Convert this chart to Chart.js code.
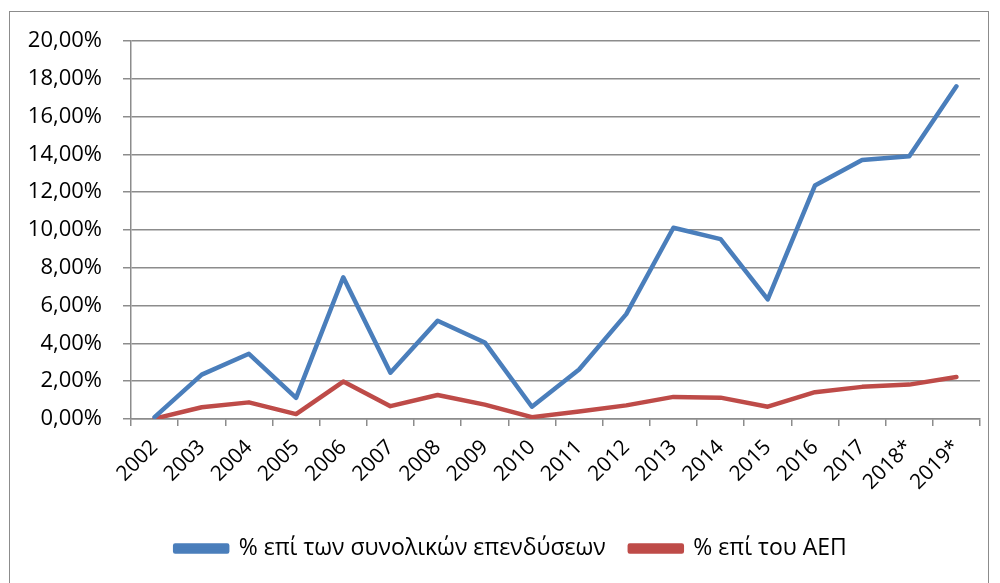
<!DOCTYPE html>
<html>
<head>
<meta charset="utf-8">
<script src="https://cdn.jsdelivr.net/npm/chart.js@4"></script>
<style>
  html, body { margin: 0; padding: 0; background: #fff; }
  #wrap { position: relative; width: 1000px; height: 583px; }
  #frame { position: absolute; left: 9px; top: 11px; width: 980px; height: 600px; border: 1px solid #8c8c8c; box-sizing: border-box; }
  #chartBox { position: absolute; left: 0; top: 0; width: 1000px; height: 583px; }
</style>
</head>
<body>
<div id="wrap">
  <div id="frame"></div>
  <div id="chartBox"><canvas id="lineChart"></canvas></div>
</div>
<script>
// data
const years = ['2002', '2003', '2004', '2005', '2006', '2007', '2008', '2009', '2010',
  '2011', '2012', '2013', '2014', '2015', '2016', '2017', '2018*', '2019*'];
const shareOfInvestment = [0.1, 2.35, 3.45, 1.12, 7.5, 2.45, 5.2, 4.05, 0.65,
  2.62, 5.55, 10.12, 9.52, 6.33, 12.35, 13.7, 13.9, 17.6];
const shareOfGdp = [0.02, 0.62, 0.88, 0.26, 1.98, 0.68, 1.27, 0.76, 0.1,
  0.4, 0.72, 1.17, 1.13, 0.65, 1.42, 1.7, 1.82, 2.22];
const seriesNames = ['% επί των συνολικών επενδύσεων', '% επί του ΑΕΠ'];

const font = "'Open Sans', sans-serif";
const gridColor = '#8c8c8c';

const fmtPct = v => v.toFixed(2).replace('.', ',') + '%';

// shift legend a bit to the right, like in the original
const legendShift = {
  id: 'legendShift',
  afterLayout(chart) {
    if (chart.legend) {
      chart.legend.left += 16;
      chart.legend.right += 16;
    }
  }
};

new Chart(document.getElementById('lineChart'), {
  type: 'line',
  data: {
    labels: years,
    datasets: [{
      label: seriesNames[0],
      data: shareOfInvestment,
      borderColor: '#4a7ebb',
      backgroundColor: '#4a7ebb',
      borderWidth: 4.5,
      pointRadius: 0,
      tension: 0,
      borderCapStyle: 'round',
      borderJoinStyle: 'round'
    }, {
      label: seriesNames[1],
      data: shareOfGdp,
      borderColor: '#be4b48',
      backgroundColor: '#be4b48',
      borderWidth: 4.5,
      pointRadius: 0,
      tension: 0,
      borderCapStyle: 'round',
      borderJoinStyle: 'round'
    }]
  },
  options: {
    responsive: true,
    maintainAspectRatio: false,
    animation: false,
    layout: { padding: { left: 10, right: 20, top: 41, bottom: 13 } },
    scales: {
      x: {
        offset: true,
        grid: { offset: true, drawOnChartArea: false, drawTicks: true, tickLength: 7, color: gridColor, lineWidth: 1.5 },
        border: { display: true, color: gridColor, width: 1.5 },
        ticks: {
          minRotation: 45, maxRotation: 45, autoSkip: false,
          color: '#000', padding: 9,
          font: { family: font, size: 21 }
        },
        afterFit: (axis) => { axis.height = 94; }
      },
      y: {
        min: 0, max: 20,
        grid: { color: gridColor, lineWidth: 1.5, tickLength: 8 },
        border: { display: true, color: gridColor, width: 1.5 },
        ticks: {
          stepSize: 2, color: '#000', padding: 21,
          font: { family: font, size: 22 },
          callback: v => fmtPct(v)
        },
        afterFit: (axis) => { axis.width = 121; }
      }
    },
    plugins: {
      legend: {
        position: 'bottom',
        labels: {
          boxWidth: 52, boxHeight: 6, padding: 24,
          color: '#000',
          font: { family: font, size: 23 }
        }
      },
      tooltip: { enabled: false }
    }
  },
  plugins: [legendShift]
});
</script>
</body>
</html>
